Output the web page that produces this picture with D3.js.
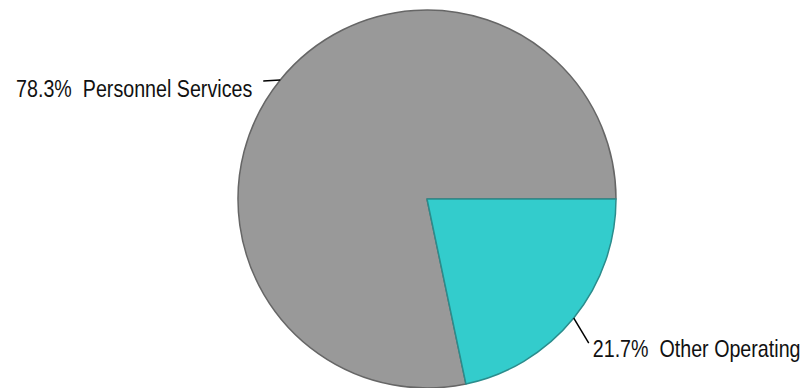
<!DOCTYPE html>
<html>
<head>
<meta charset="utf-8">
<script src="https://cdn.jsdelivr.net/npm/d3@7/dist/d3.min.js"></script>
<style>
  html, body { margin: 0; padding: 0; background: #fff; }
  svg { display: block; }
  .lbl { font-family: 'Liberation Sans', Arial, sans-serif; font-size: 24px; fill: #111; white-space: pre; }
</style>
</head>
<body>
<svg id="chart" width="801" height="388"></svg>
<script>
// Budget split by category (percent of total)
const categories = ["Other Operating", "Personnel Services"];
const shares = [21.7, 78.3];
const fills = ["#33CCCC", "#999999"];
const strokes = ["#2B8C8C", "#666666"];

const width = 801, height = 388;
const cx = 427, cy = 199, radius = 189;
// labels use a condensed face; squeeze a regular sans horizontally
const narrow = 0.82;

// leader line and label offsets for each slice, in the same order as categories
const layout = [
  { line: [15, 25], text: [4, 14], anchor: "start" },
  { line: [-17, 1], text: [-11, 16], anchor: "end" }
];

const svg = d3.select("#chart");
const g = svg.append("g").attr("transform", `translate(${cx},${cy})`);

const rows = categories.map((c, i) => ({ name: c, value: shares[i], i }));

const pie = d3.pie()
  .sort(null)
  .value(d => d.value)
  .startAngle(Math.PI / 2)
  .endAngle(Math.PI / 2 + 2 * Math.PI);

const arcs = pie(rows);
const arc = d3.arc().innerRadius(0).outerRadius(radius);
const rim = d3.arc().innerRadius(radius).outerRadius(radius);

// draw the large slice first so the smaller slice's outline stays on top
g.selectAll("path.slice")
  .data(arcs.slice().reverse())
  .join("path")
  .attr("class", "slice")
  .attr("d", arc)
  .attr("fill", d => fills[d.data.i])
  .attr("stroke", d => strokes[d.data.i])
  .attr("stroke-width", 1.5)
  .attr("stroke-linejoin", "round");

arcs.forEach(d => {
  const L = layout[d.data.i];
  const [ex, ey] = rim.centroid(d);
  const lx = ex + L.line[0], ly = ey + L.line[1];
  g.append("line")
    .attr("x1", ex).attr("y1", ey)
    .attr("x2", lx).attr("y2", ly)
    .attr("stroke", "#000")
    .attr("stroke-width", 1.5);
  g.append("g")
    .attr("transform", `translate(${lx + L.text[0]},${ly + L.text[1]}) scale(${narrow},1)`)
    .append("text")
    .attr("class", "lbl")
    .attr("text-anchor", L.anchor)
    .text(`${d.data.value.toFixed(1)}%  ${d.data.name}`);
});
</script>
</body>
</html>
